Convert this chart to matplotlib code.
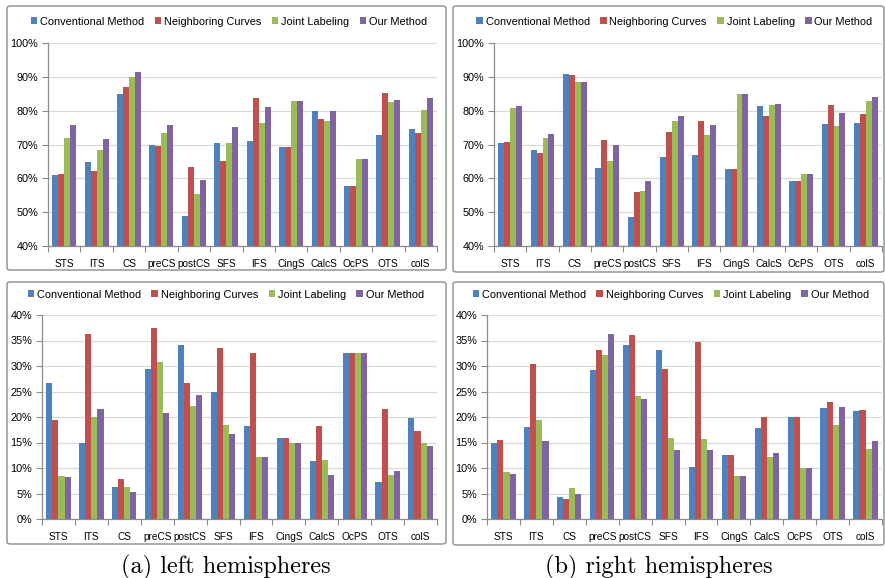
import numpy as np
import matplotlib.pyplot as plt
from matplotlib.patches import FancyBboxPatch
from matplotlib.ticker import FuncFormatter, FixedLocator

plt.rcParams['font.family'] = ['Liberation Sans', 'DejaVu Sans']

categories = ['STS', 'ITS', 'CS', 'preCS', 'postCS', 'SFS', 'IFS', 'CingS', 'CalcS', 'OcPS', 'OTS', 'colS']
methods = ['Conventional Method', 'Neighboring Curves', 'Joint Labeling', 'Our Method']
colors = ['#4F81BD', '#C0504D', '#9BBB59', '#8064A2']

# accuracy, left hemispheres (%)
acc_left_conv = [61.0, 64.8, 84.8, 69.8, 48.8, 70.4, 70.9, 69.2, 79.8, 57.6, 72.7, 74.5]
acc_left_neigh = [61.2, 62.2, 87.0, 69.5, 63.4, 65.0, 83.7, 69.2, 77.6, 57.6, 85.1, 73.5]
acc_left_joint = [72.0, 68.4, 90.0, 73.5, 55.5, 70.3, 76.5, 83.0, 76.9, 65.7, 82.6, 80.2]
acc_left_ours = [75.8, 71.6, 91.3, 75.8, 59.5, 75.2, 81.0, 83.0, 80.0, 65.7, 83.3, 83.6]

# accuracy, right hemispheres (%)
acc_right_conv = [70.4, 68.3, 90.7, 63.0, 48.7, 66.4, 66.8, 62.7, 81.3, 59.2, 76.1, 76.3]
acc_right_neigh = [70.7, 67.5, 90.4, 71.2, 56.0, 73.6, 77.0, 62.7, 78.3, 59.2, 81.7, 79.1]
acc_right_joint = [80.8, 71.9, 88.4, 65.0, 56.3, 76.8, 72.7, 84.8, 81.8, 61.3, 75.4, 82.8]
acc_right_ours = [81.5, 73.1, 88.5, 69.9, 59.2, 78.4, 75.7, 84.8, 82.1, 61.3, 79.2, 83.9]

# error, left hemispheres (%)
err_left_conv = [26.7, 14.9, 6.2, 29.5, 34.1, 24.9, 18.2, 15.9, 11.3, 32.5, 7.3, 19.9]
err_left_neigh = [19.5, 36.3, 7.9, 37.5, 26.6, 33.6, 32.6, 15.9, 18.2, 32.5, 21.5, 17.3]
err_left_joint = [8.5, 20.0, 6.35, 30.7, 22.1, 18.5, 12.2, 14.9, 11.6, 32.5, 8.7, 14.9]
err_left_ours = [8.3, 21.5, 5.2, 20.7, 24.4, 16.75, 12.1, 14.9, 8.6, 32.5, 9.4, 14.3]

# error, right hemispheres (%)
err_right_conv = [15.0, 18.0, 4.4, 29.3, 34.2, 33.2, 10.1, 12.5, 17.8, 20.0, 21.7, 21.2]
err_right_neigh = [15.4, 30.4, 4.0, 33.2, 36.1, 29.5, 34.8, 12.5, 20.0, 20.0, 23.0, 21.3]
err_right_joint = [9.2, 19.5, 6.1, 32.2, 24.2, 15.8, 15.6, 8.5, 12.1, 10.0, 18.4, 13.8]
err_right_ours = [8.8, 15.2, 5.0, 36.2, 23.6, 13.6, 13.6, 8.5, 12.9, 10.0, 21.9, 15.3]

W, H = 885, 578
fig = plt.figure(figsize=(W / 100, H / 100), dpi=100)


def px_axes(left, top, right, bottom):
    return fig.add_axes([left / W, 1 - bottom / H, (right - left) / W, (bottom - top) / H])


def box(left, top, right, bottom):
    p = FancyBboxPatch((left / W, 1 - bottom / H), (right - left) / W, (bottom - top) / H,
                       boxstyle='round,pad=0,rounding_size=0.004', transform=fig.transFigure,
                       facecolor='none', edgecolor='#8c8c8c', linewidth=1.0)
    fig.patches.append(p)


def panel(ax, series, ylim, yticks, legend_y):
    x = np.arange(len(categories))
    bw = 0.185
    for i, vals in enumerate(series):
        ax.bar(x + (i - 1.5) * bw, vals, width=bw, color=colors[i], label=methods[i],
               linewidth=0, zorder=3)
    ax.set_xlim(-0.5, len(categories) - 0.5)
    ax.set_ylim(*ylim)
    ax.set_yticks(yticks)
    ax.yaxis.set_major_formatter(FuncFormatter(lambda v, p: f'{v:.0f}%'))
    ax.set_xticks(x)
    ax.set_xticklabels(categories, fontsize=7.3)
    ax.xaxis.set_minor_locator(FixedLocator(np.arange(-0.5, len(categories), 1)))
    ax.tick_params(axis='x', which='major', length=0, pad=9)
    ax.tick_params(axis='x', which='minor', length=4, color='#8c8c8c', width=0.8)
    ax.tick_params(axis='y', length=4, color='#8c8c8c', width=0.8, labelsize=7.8, pad=3)
    ax.grid(axis='y', color='#d9d9d9', linewidth=0.9, zorder=0)
    for s in ['top', 'right']:
        ax.spines[s].set_visible(False)
    for s in ['left', 'bottom']:
        ax.spines[s].set_color('#8c8c8c')
        ax.spines[s].set_linewidth(0.9)
    ax.legend(loc='center', bbox_to_anchor=(0.465, legend_y), ncol=4, frameon=False,
              fontsize=7.9, handlelength=0.6, handleheight=0.6, handletextpad=0.25,
              columnspacing=0.95, borderaxespad=0)


box(7, 6, 446, 270)
box(453, 6, 884, 272)
box(7, 282, 446, 544)
box(453, 282, 884, 545)

ax1 = px_axes(48, 43, 437, 246)
panel(ax1, [acc_left_conv, acc_left_neigh, acc_left_joint, acc_left_ours],
      (40, 100), np.arange(40, 101, 10), 1.105)
ax2 = px_axes(494, 43, 882, 246)
panel(ax2, [acc_right_conv, acc_right_neigh, acc_right_joint, acc_right_ours],
      (40, 100), np.arange(40, 101, 10), 1.105)
ax3 = px_axes(42, 315, 437, 519)
panel(ax3, [err_left_conv, err_left_neigh, err_left_joint, err_left_ours],
      (0, 40), np.arange(0, 41, 5), 1.10)
ax4 = px_axes(487, 315, 882, 519)
panel(ax4, [err_right_conv, err_right_neigh, err_right_joint, err_right_ours],
      (0, 40), np.arange(0, 41, 5), 1.10)

fig.text(226 / W, 1 - 567 / H, '(a) left hemispheres', family='cmr10', fontsize=17.5,
         ha='center', va='center')
fig.text(659 / W, 1 - 567 / H, '(b) right hemispheres', family='cmr10', fontsize=17.5,
         ha='center', va='center')

fig.savefig('out.png', dpi=100)
